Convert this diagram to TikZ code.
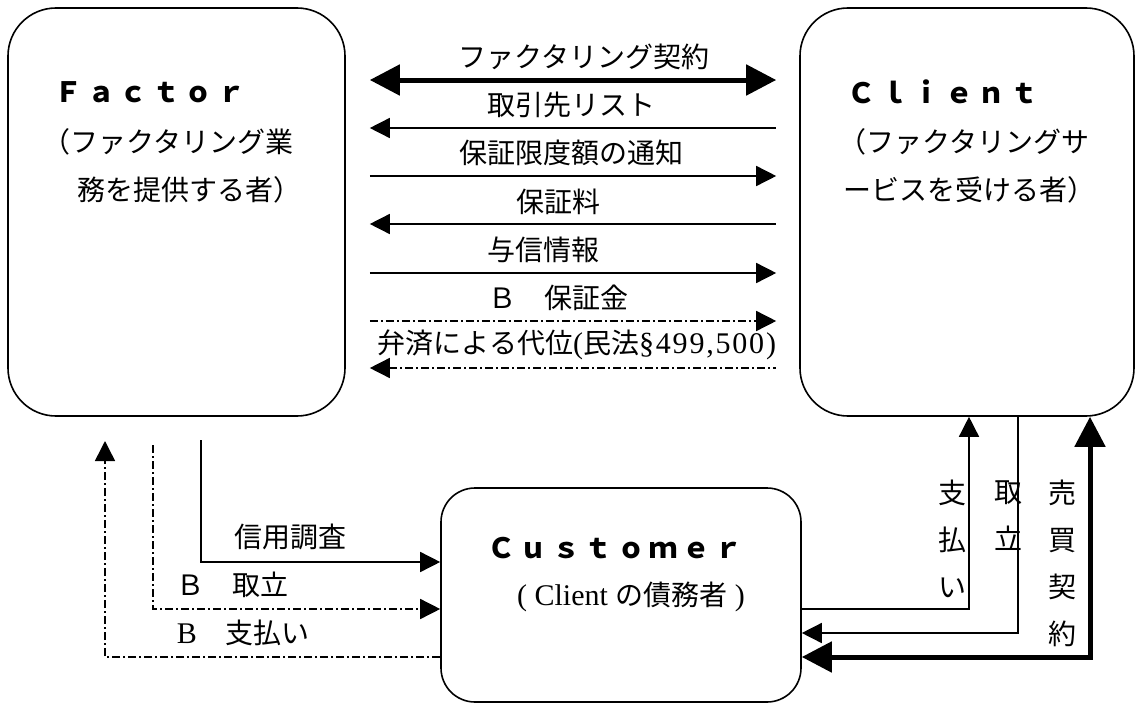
\documentclass[tikz,border=0pt]{standalone}
\usepackage{fontspec}
\setmainfont{Liberation Serif}
\newfontfamily\jp{Noto Sans CJK JP}
\newfontfamily\jphead{Noto Sans CJK JP}[LetterSpace=16]
\newfontfamily\serwide{Liberation Serif}[LetterSpace=6]
\usetikzlibrary{arrows.meta}
\newcommand\jpt[1]{{\jp\fontsize{28pt}{34pt}\selectfont #1}}
\tikzset{
  box/.style={draw, line width=1.6pt, inner sep=0pt},
  jlbl/.style={inner sep=0pt, font=\jp\fontsize{28pt}{34pt}\selectfont},
  slbl/.style={inner sep=0pt, font=\fontsize{30pt}{34pt}\selectfont},
  head/.style={inner sep=0pt, font=\jphead\bfseries\fontsize{28pt}{34pt}\selectfont},
  vlbl/.style={inner sep=0pt, align=center, font=\jp\fontsize{28pt}{47pt}\selectfont},
  conn/.style={line width=1.5pt},
  heavy/.style={line width=5pt},
  dashdot/.style={dash pattern=on 8pt off 3pt on 2pt off 3pt},
  smalltip/.tip={Triangle[length=20pt,width=20pt]},
  bigtip/.tip={Triangle[length=30pt,width=30pt]},
}
\begin{document}
\begin{tikzpicture}[x=1pt, y=-1pt]
\useasboundingbox (0,0) rectangle (1136,704);
% boxes
\node[box, rounded corners=48pt, minimum width=337pt, minimum height=408pt] (factor) at (176.5,212) {};
\node[box, rounded corners=48pt, minimum width=334pt, minimum height=408pt] (client) at (967,212) {};
\node[box, rounded corners=34pt, minimum width=360pt, minimum height=214pt] (customer) at (621,595) {};
% box texts
\node[head] (factorT) at (150,92) {Ｆａｃｔｏｒ};
\node[jlbl, anchor=west] (factorS1) at (42,142) {（ファクタリング業};
\node[jlbl, anchor=west] (factorS2) at (77,190) {務を提供する者）};
\node[head] (clientT) at (943,92) {Ｃｌｉｅｎｔ};
\node[jlbl, anchor=west] (clientS1) at (838,142) {（ファクタリングサ};
\node[jlbl, anchor=west] (clientS2) at (843,190) {ービスを受ける者）};
\node[head] (customerT) at (615,548) {Ｃｕｓｔｏｍｅｒ};
\node[slbl] (customerS) at (631,597) {( Client \jpt{の債務者} )};
% top labels
\node[jlbl] (l1) at (584,57) {ファクタリング契約};
\node[jlbl] (l2) at (571,105) {取引先リスト};
\node[jlbl] (l3) at (571,153) {保証限度額の通知};
\node[jlbl] (l4) at (558,202) {保証料};
\node[jlbl] (l5) at (543,250) {与信情報};
\node[jlbl] (l6) at (558,298) {Ｂ　保証金};
\node[slbl] (l7) at (577,345) {\jpt{弁済による代位}(\jpt{民法}{\serwide §499,500)}};
% bottom-left labels
\node[jlbl] (b1) at (290,537) {信用調査};
\node[jlbl] (b2) at (232,585) {Ｂ　取立};
\node[slbl] (b3) at (243,633) {B\jpt{　支払い}};
% right vertical labels
\node[vlbl] (r1) at (952,539) {支\\払\\い};
\node[vlbl] (r2) at (1008,516) {取\\立};
\node[vlbl] (r3) at (1062,563) {売\\買\\契\\約};
% top connectors
\coordinate (tl) at ([xshift=24pt]factor.east);
\coordinate (tr) at ([xshift=-23pt]client.west);
\draw[heavy, bigtip-bigtip] (tl |- 0,80) -- (tr |- 0,80);
\draw[conn, smalltip-] (tl |- 0,128) -- (tr |- 0,128);
\draw[conn, -smalltip] (tl |- 0,176) -- (tr |- 0,176);
\draw[conn, smalltip-] (tl |- 0,224) -- (tr |- 0,224);
\draw[conn, -smalltip] (tl |- 0,273) -- (tr |- 0,273);
\draw[conn, dashdot, -smalltip] (tl |- 0,321) -- (tr |- 0,321);
\draw[conn, dashdot, smalltip-] (tl |- 0,368) -- (tr |- 0,368);
% bottom-left connectors
\coordinate (s1) at (201,440);
\coordinate (s2) at (153,445);
\coordinate (s3) at (105,441);
\draw[conn, -smalltip] (s1) |- (customer.west |- 0,562);
\draw[conn, dashdot, -smalltip] (s2) |- (customer.west |- 0,609);
\draw[conn, dashdot, -smalltip] (customer.west |- 0,657) -| (s3);
% bottom-right connectors
\draw[conn, -smalltip] (customer.east |- 0,609) -| (client.south -| 969,0);
\draw[conn, -smalltip] (client.south -| 1018,0) |- (customer.east |- 0,633);
\draw[heavy, bigtip-bigtip] (customer.east |- 0,657) -| (client.south -| 1090,0);
\end{tikzpicture}
\end{document}
